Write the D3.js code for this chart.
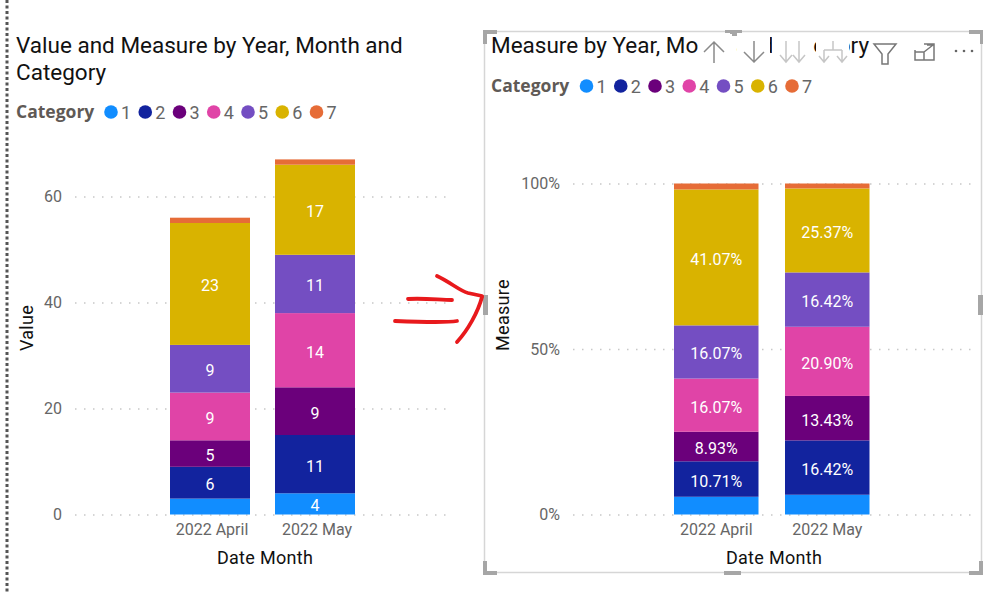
<!DOCTYPE html>
<html>
<head>
<meta charset="utf-8">
<title>Value and Measure by Year, Month and Category</title>
<script src="https://cdnjs.cloudflare.com/ajax/libs/d3/7.8.5/d3.min.js"></script>
<style>
	html, body { margin: 0; padding: 0; background: #fff; }
	svg { display: block; }
	text { font-family: Roboto, "Noto Sans", sans-serif; }
	.title { font-size: 22.5px; fill: #111; }
	.legend-title { font-size: 17.5px; font-weight: bold; fill: #5f5a56; font-family: "Open Sans", sans-serif; }
	.legend-item { font-size: 18px; fill: #666; }
	.tick-label { font-size: 16px; fill: #666; }
	.axis-title { font-size: 18px; fill: #111; letter-spacing: 0.3px; }
	.bar-label { font-size: 16px; fill: #fff; text-anchor: middle; dominant-baseline: central; }
	.domain { display: none; }
	.grid line { stroke: #c8c8c8; stroke-width: 1.5; stroke-dasharray: 1.5 7.5; }
</style>
</head>
<body>
<svg id="chart" width="999" height="594"></svg>
<script>
// data
var categories = ['1', '2', '3', '4', '5', '6', '7'];
var months = ['2022 April', '2022 May'];
var colors = ['#118dff', '#12239e', '#6b007b', '#e044a7', '#744ec2', '#d9b300', '#e66c37'];

var aprilValues = [3, 6, 5, 9, 9, 23, 1];
var mayValues = [4, 11, 9, 14, 11, 17, 1];
var aprilLabels = ['', '6', '5', '9', '9', '23', ''];
var mayLabels = ['4', '11', '9', '14', '11', '17', ''];

var aprilPct = [5.36, 10.71, 8.93, 16.07, 16.07, 41.07, 1.79];
var mayPct = [5.97, 16.42, 13.43, 20.90, 16.42, 25.37, 1.49];
var aprilPctLabels = ['', '10.71%', '8.93%', '16.07%', '16.07%', '41.07%', ''];
var mayPctLabels = ['', '16.42%', '13.43%', '20.90%', '16.42%', '25.37%', ''];

var valueTicks = [0, 20, 40, 60];
var pctTicks = [0, 50, 100];

var svg = d3.select('#chart');

// dotted page edge on the far left
svg.append('line').attr('x1', 7).attr('x2', 7).attr('y1', 0).attr('y2', 594)
	.attr('stroke', '#555').attr('stroke-width', 3).attr('stroke-dasharray', '3 2.5');

function stackedChart(opts) {
	var g = svg.append('g');
	var y = d3.scaleLinear().domain(opts.domain).range([514.5, opts.yTop]);
	var x = d3.scaleBand().domain(months).range(opts.barRange).paddingInner(opts.pad);

	// gridlines go behind the bars
	var grid = g.append('g').attr('class', 'grid').attr('transform', 'translate(' + opts.gridRange[0] + ',0)')
		.call(d3.axisLeft(y).tickValues(opts.ticks).tickSize(opts.gridRange[0] - opts.gridRange[1]).tickFormat(''));

	var axisY = g.append('g').attr('transform', 'translate(' + (opts.gridRange[0] - 13) + ',0)')
		.call(d3.axisLeft(y).tickValues(opts.ticks).tickSize(0).tickPadding(0).tickFormat(opts.format));
	axisY.selectAll('text').attr('class', 'tick-label');

	var axisX = g.append('g').attr('transform', 'translate(' + opts.tickDx + ',514.5)')
		.call(d3.axisBottom(x).tickSize(0).tickPadding(9));
	axisX.selectAll('text').attr('class', 'tick-label');

	var rows = months.map(function(m, i) {
		var row = { month: m };
		categories.forEach(function(c, j) { row[c] = opts.series[i][j]; });
		return row;
	});
	var layers = d3.stack().keys(categories)(rows);

	layers.forEach(function(layer, j) {
		g.selectAll(null).data(layer).enter().append('rect')
			.attr('x', function(d) { return x(d.data.month); })
			.attr('width', x.bandwidth())
			.attr('y', function(d) { return y(d[1]); })
			.attr('height', function(d) { return y(d[0]) - y(d[1]); })
			.attr('fill', colors[j]);
		g.selectAll(null).data(layer).enter().append('text')
			.attr('class', 'bar-label')
			.attr('x', function(d) { return x(d.data.month) + x.bandwidth() / 2; })
			.attr('y', function(d) { return (y(d[0]) + y(d[1])) / 2 + 2; })
			.text(function(d, i) { return opts.labels[i][j]; });
	});

	// legend
	var lg = g.append('g');
	lg.append('text').attr('class', 'legend-title').attr('x', opts.titleX).attr('y', opts.legendY + 6).text('Category');
	categories.forEach(function(c, j) {
		var cx = opts.legendX + j * 34.25;
		lg.append('circle').attr('cx', cx).attr('cy', opts.legendY).attr('r', 6.8).attr('fill', colors[j]);
		lg.append('text').attr('class', 'legend-item').attr('x', cx + 10).attr('y', opts.legendY + 6.5).text(c);
	});

	// axis titles
	g.append('text').attr('class', 'axis-title').attr('text-anchor', 'middle')
		.attr('x', opts.xTitleX).attr('y', 563.5).text('Date Month');
	g.append('text').attr('class', 'axis-title').attr('text-anchor', 'middle')
		.attr('transform', 'translate(' + opts.yTitleX + ',' + opts.yTitleY + ') rotate(-90)').text(opts.yTitle);
}

stackedChart({
	domain: [0, 60], yTop: 196.5, ticks: valueTicks, format: d3.format('d'),
	barRange: [170, 355], pad: 25 / 105, gridRange: [75, 449], tickDx: 2,
	series: [aprilValues, mayValues], labels: [aprilLabels, mayLabels],
	titleX: 16, legendX: 111, legendY: 112,
	xTitleX: 265, yTitleX: 33, yTitleY: 328, yTitle: 'Value'
});

stackedChart({
	domain: [0, 100], yTop: 183.5, ticks: pctTicks, format: function(d) { return d + '%'; },
	barRange: [674, 869.5], pad: 26.5 / 111, gridRange: [573, 972], tickDx: 0,
	series: [aprilPct, mayPct], labels: [aprilPctLabels, mayPctLabels],
	titleX: 491, legendX: 586.5, legendY: 86,
	xTitleX: 774, yTitleX: 509, yTitleY: 315, yTitle: 'Measure'
});

// titles
svg.append('text').attr('class', 'title').attr('x', 16).attr('y', 53).text('Value and Measure by Year, Month and');
svg.append('text').attr('class', 'title').attr('x', 16).attr('y', 80).text('Category');
svg.append('text').attr('class', 'title').attr('x', 491).attr('y', 53).text('Measure by Year, Month and Category');

// selection frame around the right visual
svg.append('rect').attr('x', 484.5).attr('y', 31.5).attr('width', 497).attr('height', 541)
	.attr('fill', 'none').attr('stroke', '#d6d6d6').attr('stroke-width', 1.5);

function handle(d) {
	svg.append('path').attr('d', d).attr('fill', '#a6a6a6');
}
handle('M483 30H497V34H487V44H483Z');
handle('M983 30H969V34H979V44H983Z');
handle('M483 575H497V571H487V561H483Z');
handle('M983 575H969V571H979V561H983Z');
handle('M725 30H742V33H737V36H730V33H725Z');
handle('M724 571H741V575H724Z');
handle('M483 295H488V315H483Z');
handle('M978 295H983V315H978Z');

// header icons sit on white patches over the title
[[698, 34], [737, 33], [772, 41], [816, 33], [870, 32], [908, 36], [948, 32]].forEach(function(p) {
	svg.append('rect').attr('x', p[0]).attr('y', 34).attr('width', p[1]).attr('height', 30).attr('fill', '#fff');
});

function icon(d, color) {
	svg.append('path').attr('d', d).attr('fill', 'none').attr('stroke', color).attr('stroke-width', 1.5);
}
icon('M714 63V42M704 52L714 42L724 52', '#8a8a8a');
icon('M754 41V62M744 52L754 62L764 52', '#8a8a8a');
icon('M786 41V62M780 55L786 62L792 55M799 41V62M793 55L799 62L805 55', '#c6c6c6');
icon('M833 41V50M824 50H842M824 50V62M842 50V62M819 56L824 62L829 56M837 56L842 62L847 56', '#c6c6c6');
icon('M874 44H896L888 54V64H882V54Z', '#777');
icon('M915 50V60H934V44H924M915 52H924V60M924 52L933 45M927 45H934V51', '#777');
svg.selectAll(null).data([956, 964, 972]).enter().append('circle')
	.attr('cx', function(d) { return d; }).attr('cy', 51).attr('r', 1.3).attr('fill', '#666');

// red hand drawn arrow between the charts
var red = svg.append('g').attr('fill', 'none').attr('stroke', '#e8191c').attr('stroke-width', 3.8).attr('stroke-linecap', 'round');
red.append('path').attr('d', 'M437 276C450 282 460 291 468 293L482 296');
red.append('path').attr('d', 'M408 299C425 298 440 300 452 300');
red.append('path').attr('d', 'M395 321C420 322 445 323 457 321');
red.append('path').attr('d', 'M482 297C478 312 468 330 457 342');
</script>
</body>
</html>
